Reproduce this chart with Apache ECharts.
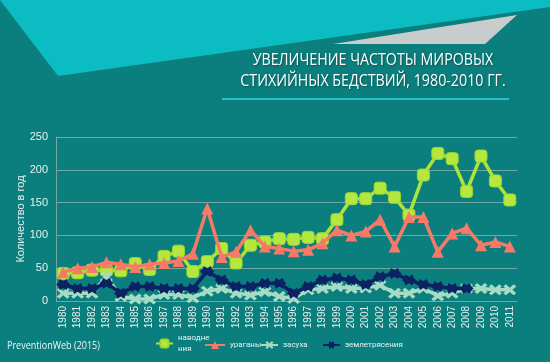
<!DOCTYPE html>
<html>
<head>
<meta charset="utf-8">
<script src="https://cdn.jsdelivr.net/npm/echarts@6/dist/echarts.min.js"></script>
<style>
html,body{margin:0;padding:0;background:#0b7f7d;}
#chart{width:550px;height:362px;}
</style>
</head>
<body>
<div id="chart"></div>
<script>
const years = ['1980','1981','1982','1983','1984','1985','1986','1987','1988','1989','1990','1991','1992','1993','1994','1995','1996','1997','1998','1999','2000','2001','2002','2003','2004','2005','2006','2007','2008','2009','2010','2011'];
const floods = [42,43,47,47,46,57,48,68,76,45,60,80,58,85,90,95,94,97,95,124,156,156,172,158,131,192,225,217,167,221,183,154];
const hurricanes = [44,50,52,59,56,52,56,58,61,72,141,67,75,108,83,80,76,78,88,108,100,106,124,83,128,128,75,103,111,85,90,83];
const drought = [12,12,12,37,7,3,3,10,10,5,15,19,12,9,14,7,4,17,19,22,19,20,24,12,12,19,8,12,19,19,17,17];
const earthquakes = [25,19,19,27,12,22,22,19,19,19,45,32,22,22,27,27,12,22,32,35,32,25,37,42,32,25,22,19,19,null,null,null];
const yTicks = [0,50,100,150,200,250];
const titleLines = ['УВЕЛИЧЕНИЕ ЧАСТОТЫ МИРОВЫХ', 'СТИХИЙНЫХ БЕДСТВИЙ, 1980-2010 ГГ.'];
const sourceText = 'PreventionWeb (2015)';

const crossPath = 'path://M2,0 L5,3 L8,0 L10,2 L7,5 L10,8 L8,10 L5,7 L2,10 L0,8 L3,5 L0,2 Z';
const starPath = 'path://M3,0 L6,2 L9,0 L10,3 L12,5 L10,7 L9,10 L6,8 L3,10 L2,7 L0,5 L2,3 Z';

const chart = echarts.init(document.getElementById('chart'));
const legendText = {color:'#e6f2f2', fontSize:8, fontFamily:'Roboto'};
const titleStyle = (t)=>({text:t, fill:'#ffffff', font:'16px "Open Sans"', textAlign:'center', textVerticalAlign:'middle',
  textShadowColor:'rgba(0,0,0,0.35)', textShadowBlur:2, textShadowOffsetX:1, textShadowOffsetY:1});
chart.setOption({
  backgroundColor:'#0b7f7d',
  animation:false,
  graphic:[
    {type:'polygon', shape:{points:[[0,0],[550,0],[550,7],[58,76]]}, style:{fill:'#0bbcc2'}, z:-1},
    {type:'polygon', shape:{points:[[333,44],[485,44],[517,15]]}, style:{fill:'#c9cccc'}, z:-1},
    {type:'line', shape:{x1:222,y1:99,x2:509,y2:99}, style:{stroke:'#22c3c9', lineWidth:2}},
    {type:'text', x:373, y:60, scaleX:0.89, style:titleStyle(titleLines[0])},
    {type:'text', x:373, y:81, scaleX:0.89, style:titleStyle(titleLines[1])},
    {type:'text', x:7, y:346, scaleX:0.82, style:{text:sourceText, fill:'#eef6f6', font:'11px "Open Sans"', textVerticalAlign:'middle'}}
  ],
  grid:{left:56, right:33, top:137, bottom:61},
  legend:[
    {data:['наводнения'], left:150, top:322, itemWidth:17, itemHeight:10, itemGap:0,
     formatter:()=> 'наводне\nния', textStyle:Object.assign({}, legendText, {lineHeight:11, padding:[11,0,0,0]})},
    {data:['ураганы'], left:199, top:336, itemWidth:20, itemHeight:10, textStyle:legendText},
    {data:['засуха'], left:255, top:336, itemWidth:17, itemHeight:10, textStyle:legendText},
    {data:['землетрясения'], left:317, top:336, itemWidth:17, itemHeight:10, textStyle:legendText}
  ],
  xAxis:{
    type:'category', data:years, boundaryGap:true,
    axisLine:{show:false}, axisTick:{show:false},
    axisLabel:{rotate:90, color:'#e6f0f0', fontSize:10, fontFamily:'Liberation Sans', margin:5}
  },
  yAxis:{
    type:'value', min:0, max:250, interval:50,
    name:'Количество в год', nameLocation:'middle', nameGap:30, nameRotate:90, nameMoveOverlap:false,
    nameTextStyle:{color:'#e6f0f0', fontSize:11, fontFamily:'Liberation Sans'},
    axisLine:{show:true, lineStyle:{color:'#6fa8a6', width:1}},
    axisTick:{show:false},
    axisLabel:{color:'#e6f0f0', fontSize:11, fontFamily:'Liberation Sans', margin:8, formatter:v=> yTicks.includes(v)? String(v):''},
    splitLine:{lineStyle:{color:'#6fa8a6', width:1}}
  },
  series:[
    {name:'наводнения', type:'line', data:floods, symbol:'roundRect', symbolSize:12,
     lineStyle:{color:'#aee33a', width:3.5}, itemStyle:{color:'#b5e83f', borderColor:'#9fd62c', borderWidth:1}, z:2},
    {name:'ураганы', type:'line', data:hurricanes, symbol:'triangle', symbolSize:12,
     lineStyle:{color:'#f67a67', width:3.5}, itemStyle:{color:'#f67a67'}, z:3},
    {name:'засуха', type:'line', data:drought, symbol:crossPath, symbolSize:[13,11],
     lineStyle:{color:'#a6dcc6', width:3.5}, itemStyle:{color:'#a6dcc6'}, z:4},
    {name:'землетрясения', type:'line', data:earthquakes, symbol:starPath, symbolSize:[14,11],
     lineStyle:{color:'#0c2262', width:3.5}, itemStyle:{color:'#0c2262'}, z:5}
  ]
});
</script>
</body>
</html>
